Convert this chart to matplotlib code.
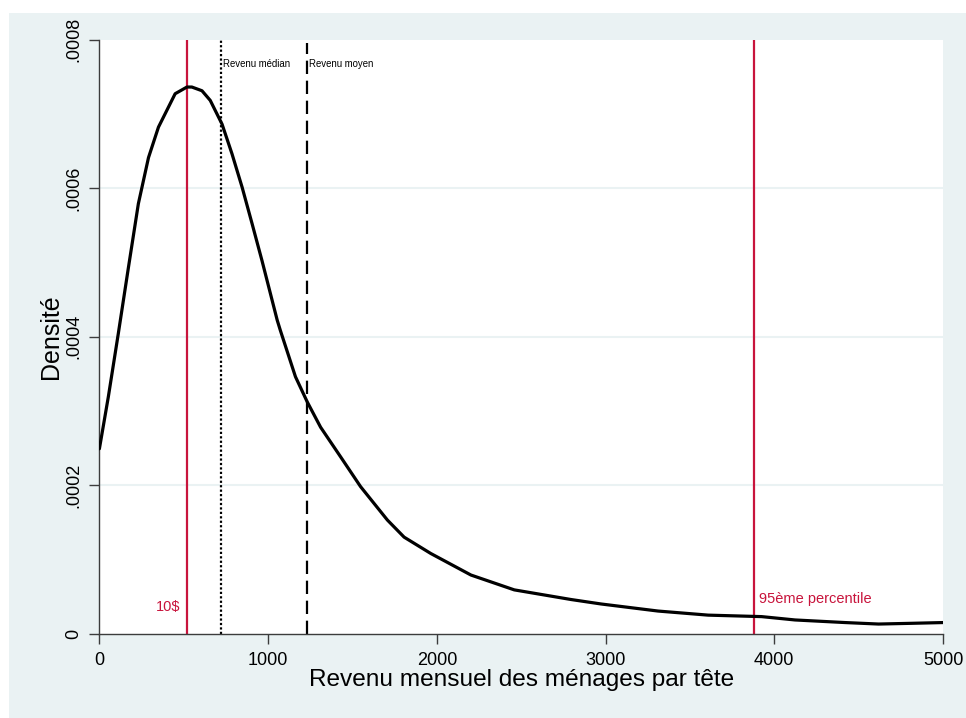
import matplotlib
matplotlib.use("Agg")
import matplotlib.pyplot as plt
from matplotlib.patches import Rectangle
from matplotlib.ticker import FixedLocator

# Data
income = [0, 53, 112, 172, 231, 291, 350, 449, 519, 548, 608, 657, 727, 786, 846,
          905, 964, 1054, 1073, 1162, 1232, 1311, 1430, 1548, 1707, 1806, 1964,
          2202, 2459, 2796, 2974, 3311, 3608, 3925, 4123, 4420, 4618, 4816, 5000]
density = [2.49e-4, 3.19e-4, 4.04e-4, 4.93e-4, 5.79e-4, 6.41e-4, 6.82e-4, 7.27e-4,
           7.36e-4, 7.36e-4, 7.31e-4, 7.18e-4, 6.86e-4, 6.46e-4, 6.01e-4, 5.52e-4,
           5.02e-4, 4.22e-4, 4.08e-4, 3.46e-4, 3.12e-4, 2.78e-4, 2.38e-4, 1.98e-4,
           1.53e-4, 1.30e-4, 1.08e-4, 7.9e-5, 5.9e-5, 4.6e-5, 4.0e-5, 3.05e-5,
           2.5e-5, 2.3e-5, 1.85e-5, 1.5e-5, 1.3e-5, 1.4e-5, 1.5e-5]

line_10usd = 520
line_p95 = 3877
median_income = 723
mean_income = 1228

x_ticks = [0, 1000, 2000, 3000, 4000, 5000]
y_ticks = [0, 0.0002, 0.0004, 0.0006, 0.0008]
y_tick_labels = ["0", ".0002", ".0004", ".0006", ".0008"]

red = "#C8143C"
bg = "#EAF2F3"

plt.rcParams["font.family"] = ["Liberation Sans", "DejaVu Sans"]

fig = plt.figure(figsize=(9.66, 7.18), dpi=100, facecolor="white")
fig.patches.append(Rectangle((9 / 966, 0), 1 - 9 / 966, 1 - 13 / 718,
                             transform=fig.transFigure, facecolor=bg,
                             edgecolor="none", zorder=-10))
ax = fig.add_axes([99.4 / 966, 1 - 633.7 / 718, (943 - 99.4) / 966, (633.7 - 39.5) / 718])
ax.set_facecolor("white")

ax.set_xlim(0, 5000)
ax.set_ylim(0, 0.0008)

ax.yaxis.set_major_locator(FixedLocator(y_ticks))
ax.set_yticklabels(y_tick_labels, rotation=90, va="center")
ax.xaxis.set_major_locator(FixedLocator(x_ticks))
ax.set_xticklabels([str(t) for t in x_ticks])

for yv in y_ticks[1:-1]:
    ax.axhline(yv, color=bg, lw=1.5, zorder=0.5)

ax.plot(income, density, color="black", lw=2.3, zorder=3,
        solid_joinstyle="round", solid_capstyle="round")

ax.axvline(line_10usd, color=red, lw=1.6, zorder=2)
ax.axvline(line_p95, color=red, lw=1.6, zorder=2)
ax.axvline(median_income, color="black", lw=1.6, linestyle=(0, (1.0, 1.0)), zorder=2)
ax.plot([mean_income, mean_income], [0, 0.000795], color="black", lw=1.6,
        linestyle=(0, (6.0, 3.0)), zorder=2)

ax.text(line_10usd - 40, 3.6e-5, "10$", color=red, fontsize=10.5,
        ha="right", va="center")
ax.text(line_p95 + 30, 4.7e-5, "95ème percentile", color=red, fontsize=10.5,
        ha="left", va="center")
ax.text(median_income + 10, 7.67e-4, "Revenu médian", color="black", fontsize=6.9,
        ha="left", va="center")
ax.text(mean_income + 15, 7.67e-4, "Revenu moyen", color="black", fontsize=6.9,
        ha="left", va="center")

for s in ["top", "right"]:
    ax.spines[s].set_visible(False)
for s in ["left", "bottom"]:
    ax.spines[s].set_color("#3c3c3c")
    ax.spines[s].set_linewidth(1.0)

ax.tick_params(axis="both", direction="out", length=7, width=1.0, color="#3c3c3c",
               labelsize=13, labelcolor="black")
ax.tick_params(axis="y", pad=5)
ax.tick_params(axis="x", pad=6)

ax.set_xlabel("Revenu mensuel des ménages par tête", fontsize=17.6, labelpad=0)
ax.set_ylabel("Densité", fontsize=18, labelpad=2)

fig.savefig("out.png", dpi=100, facecolor="white")
